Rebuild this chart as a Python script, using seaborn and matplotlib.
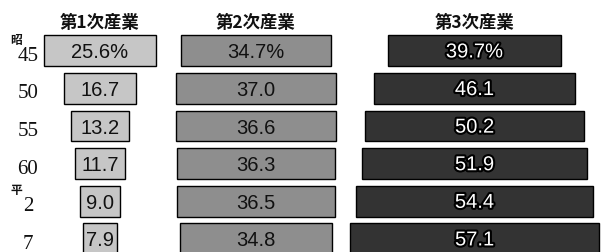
import numpy as np
import pandas as pd
import matplotlib
matplotlib.use("Agg")
import matplotlib.pyplot as plt
import matplotlib.patheffects as pe
from matplotlib.transforms import blended_transform_factory
import seaborn as sns

# ---- data ----
years = ["45", "50", "55", "60", "2", "7"]
eras = ["昭", "", "", "", "平", ""]
titles = ["第1次産業", "第2次産業", "第3次産業"]
primary = [25.6, 16.7, 13.2, 11.7, 9.0, 7.9]
secondary = [34.7, 37.0, 36.6, 36.3, 36.5, 34.8]
tertiary = [39.7, 46.1, 50.2, 51.9, 54.4, 57.1]

series = [primary, secondary, tertiary]
colors = ["#c6c6c6", "#8e8e8e", "#333333"]
text_colors = ["#111111", "#111111", "white"]

sns.set_theme(style="white")
plt.rcParams["font.family"] = ["Noto Sans CJK JP", "DejaVu Sans"]

W, H = 603, 253
fig = plt.figure(figsize=(W / 100, H / 100), dpi=100)

scale = 4.35  # px per percent
centers = [100, 256, 474.5]
halfw = [60, 90, 128]
top_px = 33.0
row_px = 37.6
ybot = (H - top_px) / row_px - 0.5

axes = []
for i in range(3):
    c, h = centers[i], halfw[i]
    ax = fig.add_axes([(c - h) / W, 0, 2 * h / W, 1 - top_px / H])
    vals = np.array(series[i])
    df = pd.DataFrame({"year": years, "value": vals})
    sns.barplot(data=df, x="value", y="year", order=years, orient="h",
                color=colors[i], left=-vals / 2, width=0.82,
                edgecolor="black", linewidth=1.0, saturation=1, ax=ax)
    lim = h / scale
    ax.set_xlim(-lim, lim)
    ax.set_ylim(ybot, -0.5)
    ax.axis("off")
    for j, v in enumerate(vals):
        s = f"{v:.1f}%" if j == 0 else f"{v:.1f}"
        t = ax.text(0, j + 0.03, s, ha="center", va="center",
                    fontsize=14.5, color=text_colors[i],
                    family=["Liberation Sans", "DejaVu Sans"])
        if i == 2:
            t.set_path_effects([pe.withStroke(linewidth=3, foreground="black")])
    fig.text(c / W, 1 - 22.5 / H, titles[i], ha="center", va="center",
             fontsize=12.5, fontweight="bold", color="#111111")
    axes.append(ax)

# row labels
tr = blended_transform_factory(fig.transFigure, axes[0].transData)
for j, (yr, era) in enumerate(zip(years, eras)):
    axes[0].text(28 / W, j + 0.12, yr, transform=tr, ha="center", va="center",
                 fontsize=15, family=["Liberation Serif", "DejaVu Serif"],
                 color="#111111", clip_on=False)
    if era:
        axes[0].text(16 / W, j - 0.3, era, transform=tr, ha="center",
                     va="center", fontsize=8.5, fontweight="bold",
                     color="#111111", clip_on=False)

fig.savefig("out.png", dpi=100)
